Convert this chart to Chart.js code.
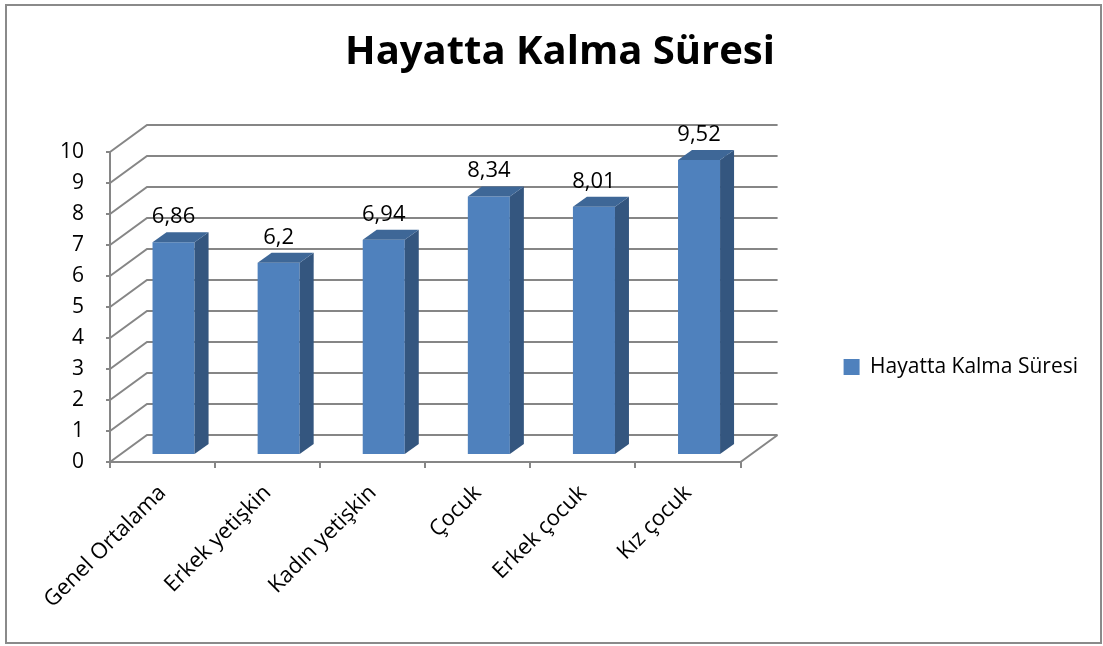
<!DOCTYPE html>
<html>
<head>
<meta charset="utf-8">
<script src="https://cdn.jsdelivr.net/npm/chart.js@4.4.1/dist/chart.umd.min.js"></script>
<style>
  html, body { margin: 0; padding: 0; background: #fff; }
  #wrap { width: 1103px; height: 646px; }
</style>
</head>
<body>
<div id="wrap"><canvas id="chart" width="1103" height="646"></canvas></div>
<script>
// data
const categories = ['Genel Ortalama', 'Erkek yetişkin', 'Kadın yetişkin', 'Çocuk', 'Erkek çocuk', 'Kız çocuk'];
const values = [6.86, 6.2, 6.94, 8.34, 8.01, 9.52];
const yTicks = [0, 1, 2, 3, 4, 5, 6, 7, 8, 9, 10];
const seriesName = 'Hayatta Kalma Süresi';
const chartTitle = 'Hayatta Kalma Süresi';

const FONT = '"Open Sans", "Noto Sans", sans-serif';
const GRID = '#868686';
const FRONT = '#4F81BD';
const SIDE = '#34567F';
const TOP = '#3E6797';

// depth of the 3d box (back wall offset) and of each bar
const WALL_DX = 37, WALL_DY = -27;
const BAR_SHIFT_X = 11, BAR_SHIFT_Y = -7;
const BAR_DX = 14, BAR_DY = -10;

const framePlugin = {
  id: 'frame',
  beforeDraw(chart) {
    const ctx = chart.ctx;
    ctx.save();
    ctx.fillStyle = '#fff';
    ctx.fillRect(0, 0, chart.width, chart.height);
    ctx.strokeStyle = '#8a8a8a';
    ctx.lineWidth = 2;
    ctx.strokeRect(6, 5, 1095, 638);
    ctx.restore();
  }
};

const box3dPlugin = {
  id: 'box3d',
  beforeDatasetsDraw(chart) {
    const ctx = chart.ctx;
    const y = chart.scales.y;
    const a = chart.chartArea;
    ctx.save();
    ctx.strokeStyle = GRID;
    ctx.lineWidth = 2;
    ctx.beginPath();
    yTicks.forEach(v => {
      const py = y.getPixelForValue(v);
      ctx.moveTo(a.left, py);
      ctx.lineTo(a.left + WALL_DX, py + WALL_DY);
      ctx.lineTo(a.right + WALL_DX, py + WALL_DY);
    });
    // right edge of the floor
    ctx.moveTo(a.right, a.bottom);
    ctx.lineTo(a.right + WALL_DX, a.bottom + WALL_DY);
    ctx.stroke();
    ctx.restore();

    // bars stand in the middle of the box depth
    ctx.save();
    ctx.translate(BAR_SHIFT_X, BAR_SHIFT_Y);
  },
  afterDatasetsDraw(chart) {
    const ctx = chart.ctx;
    const meta = chart.getDatasetMeta(0);
    meta.data.forEach((bar, i) => {
      const l = bar.x - bar.width / 2, r = bar.x + bar.width / 2;
      const t = bar.y, b = bar.base;
      // side
      ctx.fillStyle = SIDE;
      ctx.beginPath();
      ctx.moveTo(r, t);
      ctx.lineTo(r + BAR_DX, t + BAR_DY);
      ctx.lineTo(r + BAR_DX, b + BAR_DY);
      ctx.lineTo(r, b);
      ctx.closePath();
      ctx.fill();
      // top
      ctx.fillStyle = TOP;
      ctx.beginPath();
      ctx.moveTo(l, t);
      ctx.lineTo(l + BAR_DX, t + BAR_DY);
      ctx.lineTo(r + BAR_DX, t + BAR_DY);
      ctx.lineTo(r, t);
      ctx.closePath();
      ctx.fill();
      // value label
      ctx.fillStyle = '#000';
      ctx.font = '22px ' + FONT;
      ctx.textAlign = 'center';
      ctx.textBaseline = 'alphabetic';
      ctx.fillText(String(values[i]).replace('.', ','), bar.x, t + BAR_DY - 9);
    });
    ctx.restore();
  },
  afterLayout(chart) {
    // Excel centres the legend a little higher than Chart.js does
    const lg = chart.legend;
    const shift = 367 - (lg.top + lg.bottom) / 2;
    lg.top += shift;
    lg.bottom += shift;
  }
};

new Chart(document.getElementById('chart'), {
  type: 'bar',
  data: {
    labels: categories,
    datasets: [{
      label: seriesName,
      data: values,
      backgroundColor: FRONT,
      borderWidth: 0,
      barPercentage: 0.4,
      categoryPercentage: 1
    }]
  },
  options: {
    responsive: false,
    animation: false,
    layout: { padding: { left: 32, right: 15, top: 0, bottom: 14 } },
    plugins: {
      title: {
        display: true,
        text: chartTitle,
        color: '#000',
        font: { family: FONT, size: 40, weight: 'bold', lineHeight: 1.2 },
        padding: { top: 29, bottom: 75 }
      },
      legend: {
        position: 'right',
        maxWidth: 400,
        labels: {
          color: '#000',
          font: { family: FONT, size: 21 },
          boxWidth: 16,
          boxHeight: 16,
          padding: 103
        }
      },
      tooltip: { enabled: false }
    },
    scales: {
      x: {
        grid: { drawOnChartArea: false, color: GRID, lineWidth: 2, tickLength: 6 },
        border: { color: GRID, width: 2 },
        ticks: { color: '#000', font: { family: FONT, size: 22 }, minRotation: 45, maxRotation: 45, padding: 12 },
        afterFit(s) { s.height = 170; }
      },
      y: {
        min: 0,
        max: 10,
        ticks: { stepSize: 1, color: '#000', font: { family: FONT, size: 21 }, padding: 22 },
        grid: { drawOnChartArea: false, color: GRID, lineWidth: 2, tickLength: 4 },
        border: { color: GRID, width: 2 },
        afterFit(s) { s.width = 78; }
      }
    }
  },
  plugins: [framePlugin, box3dPlugin]
});
</script>
</body>
</html>
